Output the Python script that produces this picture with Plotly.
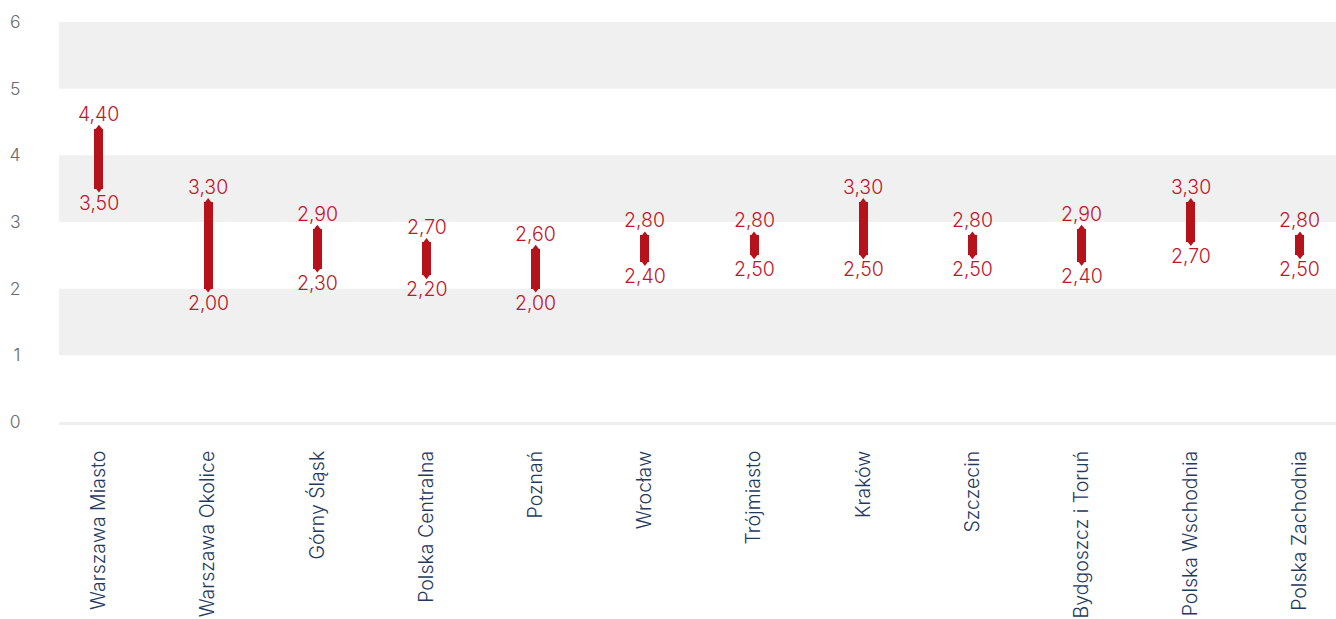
import plotly.graph_objects as go

# Regional ranges (low / high) per market
regions = [
    "Warszawa Miasto", "Warszawa Okolice", "Górny Śląsk", "Polska Centralna",
    "Poznań", "Wrocław", "Trójmiasto", "Kraków", "Szczecin",
    "Bydgoszcz i Toruń", "Polska Wschodnia", "Polska Zachodnia",
]
low_values = [3.50, 2.00, 2.30, 2.20, 2.00, 2.40, 2.50, 2.50, 2.50, 2.40, 2.70, 2.50]
high_values = [4.40, 3.30, 2.90, 2.70, 2.60, 2.80, 2.80, 3.30, 2.80, 2.90, 3.30, 2.80]
y_ticks = [0, 1, 2, 3, 4, 5, 6]

RED = "#b5121b"
LABEL_RED = "#c0162a"
NAVY = "#1f3a60"
GREY_TEXT = "#6a6a6a"
BAND = "#f0f0f0"
FONT = "Inter"
WEIGHT = 300


def fmt(v):
    return f"{v:.2f}".replace(".", ",")


fig = go.Figure()

# range bar body
fig.add_trace(go.Bar(
    x=regions,
    base=low_values,
    y=[h - l for h, l in zip(high_values, low_values)],
    width=0.082,
    marker=dict(color=RED, line=dict(width=0)),
    hoverinfo="skip",
    showlegend=False,
))

# pointed caps at both ends
fig.add_trace(go.Scatter(
    x=regions, y=high_values, mode="markers",
    marker=dict(symbol="triangle-up", size=7.8, color=RED, line=dict(width=0)),
    hoverinfo="skip", showlegend=False, cliponaxis=False,
))
fig.add_trace(go.Scatter(
    x=regions, y=low_values, mode="markers",
    marker=dict(symbol="triangle-down", size=7.8, color=RED, line=dict(width=0)),
    hoverinfo="skip", showlegend=False, cliponaxis=False,
))

# value labels above / below each range
label_font = dict(family=FONT, size=19.5, color=LABEL_RED, weight=WEIGHT)
annotations = []
for name, lo, hi in zip(regions, low_values, high_values):
    annotations.append(dict(
        x=name, y=hi, text=fmt(hi), showarrow=False, yanchor="middle",
        yshift=15, font=label_font,
    ))
    annotations.append(dict(
        x=name, y=lo, text=fmt(lo), showarrow=False, yanchor="middle",
        yshift=-14, font=label_font,
    ))

# alternating horizontal bands: shade every other unit interval
shapes = []
for a, b in zip(y_ticks[1::2], y_ticks[2::2]):
    shapes.append(dict(
        type="rect", xref="paper", x0=0, x1=1, yref="y", y0=a, y1=b,
        fillcolor=BAND, line=dict(width=0), layer="below",
    ))

fig.update_layout(
    width=1336,
    height=619,
    margin=dict(l=59, r=0, t=22, b=197, autoexpand=False),
    paper_bgcolor="white",
    plot_bgcolor="white",
    shapes=shapes,
    annotations=annotations,
    bargap=0,
    xaxis=dict(
        type="category",
        range=[-0.366, 11.33],
        tickangle=-90,
        ticks="outside",
        ticklen=18,
        tickcolor="rgba(0,0,0,0)",
        tickfont=dict(family=FONT, size=19.5, color=NAVY, weight=WEIGHT),
        showgrid=False,
        showline=True,
        linecolor="#eeeeee",
        linewidth=3,
        zeroline=False,
        automargin=False,
        fixedrange=True,
    ),
    yaxis=dict(
        range=[0, 6],
        tickvals=y_ticks,
        ticktext=[str(t) for t in y_ticks],
        ticks="outside",
        ticklen=34,
        tickcolor="rgba(0,0,0,0)",
        tickfont=dict(family=FONT, size=17.5, color=GREY_TEXT, weight=WEIGHT),
        showgrid=False,
        zeroline=False,
        showline=False,
        automargin=False,
        fixedrange=True,
    ),
)

fig.write_html("out.html", config={"displayModeBar": False, "responsive": False})
